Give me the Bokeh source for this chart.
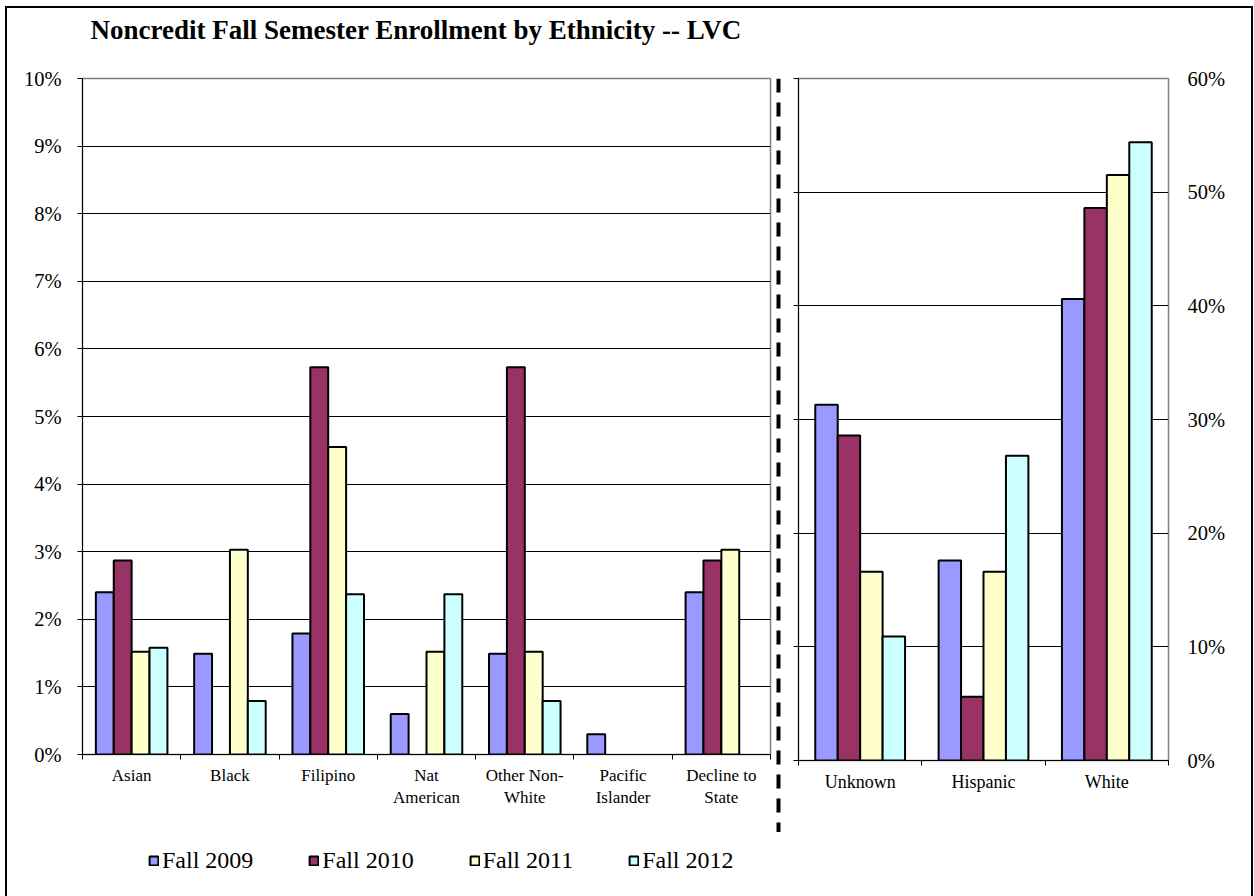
from bokeh.plotting import figure
from bokeh.models import (ColumnDataSource, FixedTicker, LinearAxis, PrintfTickFormatter,
                          Legend, LegendItem, Span, Range1d, Label)
from bokeh.transform import dodge
from bokeh.layouts import row, column
from bokeh.embed import file_html
from bokeh.resources import INLINE

FONT = "Liberation Serif"

# ---------------- data ----------------
years = ["Fall 2009", "Fall 2010", "Fall 2011", "Fall 2012"]
colors = ["#9999FF", "#993366", "#FFFFCC", "#CCFFFF"]

left_categories = ["Asian", "Black", "Filipino", "Nat\nAmerican", "Other Non-\nWhite",
                   "Pacific\nIslander", "Decline to\nState"]
left_2009 = [2.40, 1.49, 1.79, 0.60, 1.49, 0.30, 2.40]
left_2010 = [2.87, 0.00, 5.73, 0.00, 5.73, 0.00, 2.87]
left_2011 = [1.52, 3.03, 4.55, 1.52, 1.52, 0.00, 3.03]
left_2012 = [1.58, 0.79, 2.37, 2.37, 0.79, 0.00, 0.00]

right_categories = ["Unknown", "Hispanic", "White"]
right_2009 = [31.3, 17.6, 40.6]
right_2010 = [28.6, 5.6, 48.6]
right_2011 = [16.6, 16.6, 51.5]
right_2012 = [10.9, 26.8, 54.4]

left_ticks = list(range(0, 11))
right_ticks = list(range(0, 61, 10))

title_text = "Noncredit Fall Semester Enrollment by Ethnicity -- LVC"

BW = 0.182
OFFSETS = [-1.5 * BW, -0.5 * BW, 0.5 * BW, 1.5 * BW]


def make_source(cats, series):
    data = {"xc": [i + 0.5 for i in range(len(cats))]}
    for k, vals in enumerate(series):
        data["s%d" % k] = [v if v > 0 else float("nan") for v in vals]
    return ColumnDataSource(data)


def draw_bars(p, src):
    rs = []
    for k in range(4):
        r = p.vbar(x=dodge("xc", OFFSETS[k]), top="s%d" % k, bottom=0, width=BW, source=src,
                   fill_color=colors[k], line_color="black", line_width=2)
        rs.append(r)
    return rs


def style_xaxis(p, cats, size):
    n = len(cats)
    centers = [i + 0.5 for i in range(n)]
    bounds = list(range(n + 1))
    xa = p.xaxis[0]
    xa.ticker = FixedTicker(ticks=centers, minor_ticks=bounds)
    xa.major_label_overrides = {c: lab for c, lab in zip(centers, cats)}
    xa.major_tick_line_color = None
    xa.major_tick_out = 0
    xa.major_tick_in = 0
    xa.minor_tick_line_color = "black"
    xa.minor_tick_out = 5
    xa.minor_tick_in = 0
    xa.axis_line_color = "black"
    xa.major_label_text_font = FONT
    xa.major_label_text_font_size = size
    xa.major_label_text_color = "black"
    xa.major_label_standoff = 6
    p.xgrid.visible = False


def blank_strip(w, h, top=0):
    f = figure(x_range=Range1d(0, 1), y_range=Range1d(0, 1), frame_width=w, frame_height=h,
               min_border_left=0, min_border_right=0, min_border_top=top, min_border_bottom=0,
               x_axis_location=None, y_axis_location=None, outline_line_color=None,
               output_backend="svg", toolbar_location=None)
    f.grid.visible = False
    return f


# ---------------- title strip ----------------
pt = blank_strip(1244, 50)
pt.add_layout(Label(x=83, y=29, x_units="screen", y_units="screen", text=title_text,
                    text_font=FONT, text_font_size="27px", text_font_style="bold",
                    text_color="black", text_baseline="middle", text_align="left"))

# ---------------- left panel ----------------
src1 = make_source(left_categories, [left_2009, left_2010, left_2011, left_2012])
p1 = figure(x_range=Range1d(0, len(left_categories)), y_range=Range1d(0, 10),
            frame_width=688, frame_height=676,
            min_border_left=75, min_border_right=2, min_border_top=20, min_border_bottom=86,
            output_backend="svg", toolbar_location=None)
r1 = draw_bars(p1, src1)
style_xaxis(p1, left_categories, "17px")

ya = p1.yaxis[0]
ya.ticker = FixedTicker(ticks=left_ticks, minor_ticks=[])
ya.formatter = PrintfTickFormatter(format="%d%%")
ya.major_tick_in = 0
ya.major_tick_out = 5
ya.major_tick_line_color = "black"
ya.axis_line_color = "black"
ya.major_label_text_font = FONT
ya.major_label_text_font_size = "20.5px"
ya.major_label_text_color = "black"
ya.major_label_standoff = 16
p1.ygrid.ticker = FixedTicker(ticks=left_ticks[1:-1])
p1.ygrid.grid_line_color = "black"
p1.ygrid.grid_line_width = 1
p1.outline_line_color = "#808080"
p1.outline_line_width = 1.5

# ---------------- dashed separator ----------------
pm = blank_strip(12, 774)
pm.add_layout(Span(location=0.5, dimension="height", line_color="black", line_width=4,
                   line_dash="14 10"))

# ---------------- right panel ----------------
src2 = make_source(right_categories, [right_2009, right_2010, right_2011, right_2012])
p2 = figure(x_range=Range1d(0, len(right_categories)), y_range=Range1d(0, 60),
            frame_width=370, frame_height=682,
            min_border_left=14, min_border_right=83, min_border_top=19, min_border_bottom=81,
            output_backend="svg", toolbar_location=None)
draw_bars(p2, src2)
style_xaxis(p2, right_categories, "18px")

ya2 = p2.yaxis[0]
ya2.ticker = FixedTicker(ticks=right_ticks, minor_ticks=[])
ya2.major_label_overrides = {t: "" for t in right_ticks}
ya2.major_label_standoff = 0
ya2.major_tick_in = 0
ya2.major_tick_out = 5
ya2.major_tick_line_color = "black"
ya2.axis_line_color = "black"

ra = LinearAxis(ticker=FixedTicker(ticks=right_ticks, minor_ticks=[]),
                formatter=PrintfTickFormatter(format="%d%%"),
                axis_line_color=None, major_tick_line_color=None, minor_tick_line_color=None,
                major_tick_in=0, major_tick_out=0, major_label_standoff=19,
                major_label_text_font=FONT, major_label_text_font_size="20.5px",
                major_label_text_color="black")
p2.add_layout(ra, "right")
p2.ygrid.ticker = FixedTicker(ticks=right_ticks[1:-1])
p2.ygrid.grid_line_color = "black"
p2.ygrid.grid_line_width = 1
p2.outline_line_color = "#808080"
p2.outline_line_width = 1.5

# ---------------- legend strip ----------------
pl = blank_strip(1244, 56)
key_src = ColumnDataSource(dict(x=[0.5], top=[float("nan")]))
keys = [pl.vbar(x="x", top="top", width=0.1, source=key_src, fill_color=colors[k],
                line_color="black", line_width=2) for k in range(4)]
legend = Legend(items=[LegendItem(label=years[k], renderers=[keys[k]]) for k in range(4)],
                orientation="horizontal", location=(141, 22),
                label_text_font=FONT, label_text_font_size="24px", label_text_color="black",
                glyph_width=11, glyph_height=11, label_standoff=3, spacing=55,
                border_line_color=None, background_fill_alpha=0, padding=0, margin=0)
pl.add_layout(legend)

layout = column(pt, row(p1, pm, p2), pl,
                styles={"border": "2px solid black", "border-bottom": "none",
                        "margin-left": "5px", "margin-top": "6px"})

open("out.html", "w").write(file_html(layout, INLINE))
